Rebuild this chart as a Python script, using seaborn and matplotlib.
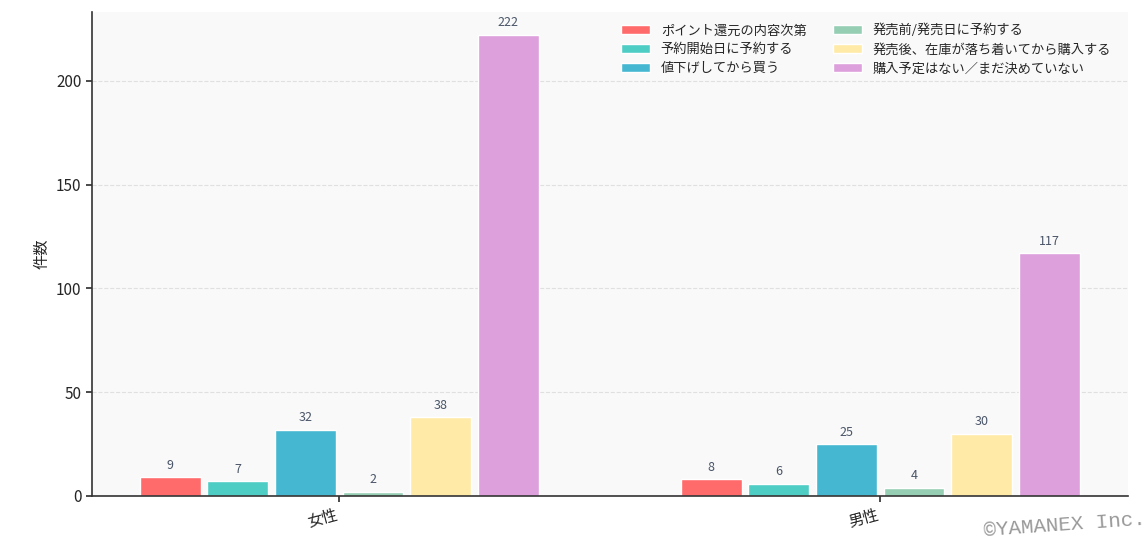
import matplotlib
matplotlib.use("Agg")
import matplotlib.pyplot as plt
import seaborn as sns
import pandas as pd

genders = ["女性", "男性"]
options = [
    "ポイント還元の内容次第",
    "予約開始日に予約する",
    "値下げしてから買う",
    "発売前/発売日に予約する",
    "発売後、在庫が落ち着いてから購入する",
    "購入予定はない／まだ決めていない",
]
female_counts = [9, 7, 32, 2, 38, 222]
male_counts = [8, 6, 25, 4, 30, 117]
colors = ["#FF6B6B", "#4ECDC4", "#45B7D1", "#96CEB4", "#FFEAA7", "#DDA0DD"]

rows = []
for g, vals in zip(genders, [female_counts, male_counts]):
    for o, v in zip(options, vals):
        rows.append({"性別": g, "回答": o, "件数": v})
df = pd.DataFrame(rows)

sns.set_theme(style="white")
plt.rcParams["font.family"] = ["Noto Sans CJK JP", "DejaVu Sans"]

fig = plt.figure(figsize=(11.48, 5.42), dpi=100)
ax = fig.add_axes([92 / 1148, 46 / 542, (1128 - 92) / 1148, (496 - 12) / 542])
ax.set_facecolor("#f9f9f9")

sns.barplot(data=df, x="性別", y="件数", hue="回答", hue_order=options, order=genders,
            palette=colors, saturation=1, width=0.75, gap=0.1, edgecolor="white", linewidth=1,
            ax=ax, errorbar=None)

for cont in ax.containers:
    ax.bar_label(cont, padding=4, fontsize=9, color="#4a5568")

ax.set_ylim(0, 222 * 1.05)
ax.set_xlim(-0.457, 1.458)
ax.yaxis.grid(True, linestyle="--", color="#e0e0e0", linewidth=0.8)
ax.set_axisbelow(True)
for s in ["top", "right"]:
    ax.spines[s].set_visible(False)
for s in ["left", "bottom"]:
    ax.spines[s].set_color("#333333")
    ax.spines[s].set_linewidth(1.2)
ax.tick_params(axis="both", which="both", length=4, color="#333333", labelsize=11, bottom=True, left=True)
ax.set_xlabel("")
ax.set_ylabel("件数", fontsize=11)
plt.setp(ax.get_xticklabels(), rotation=15, ha="right")
ax.set_yticks([0, 50, 100, 150, 200])

ax.legend(loc="upper right", ncol=2, frameon=False, fontsize=9.5,
          handlelength=2.2, handleheight=0.7, columnspacing=2.0, labelspacing=0.45,
          bbox_to_anchor=(0.995, 1.0))

fig.text(983 / 1148, 0.005, "©YAMANEX Inc.", family="Liberation Mono", fontsize=15,
         color="#999999", rotation=4, ha="left", va="bottom")

fig.savefig("out.png", dpi=100)
